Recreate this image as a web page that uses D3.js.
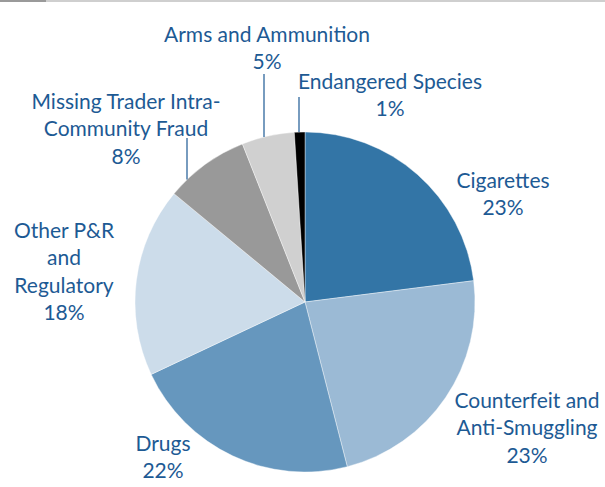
<!DOCTYPE html>
<html>
<head>
<meta charset="utf-8">
<script src="https://cdn.jsdelivr.net/npm/d3@7"></script>
<style>
  html, body { margin: 0; padding: 0; background: #fff; }
  svg { display: block; }
  text { font-family: Lato, "Open Sans", sans-serif; fill: #1d5a94; }
</style>
</head>
<body>
<svg id="chart" width="605" height="487"></svg>
<script>
// Share of activity by category, clockwise from 12 o'clock
const categories = [
  "Cigarettes",
  "Counterfeit and Anti-Smuggling",
  "Drugs",
  "Other P&R and Regulatory",
  "Missing Trader Intra-Community Fraud",
  "Arms and Ammunition",
  "Endangered Species"
];
const shares = [23, 23, 22, 18, 8, 5, 1];
const sliceColors = ["#3375a6", "#9bbad5", "#6697be", "#ccdcea", "#999999", "#d0d0d0", "#000000"];

// Label text lines per category (last line is the percentage)
const labelLines = [
  ["Cigarettes"],
  ["Counterfeit and", "Anti-Smuggling"],
  ["Drugs"],
  ["Other P&R", "and", "Regulatory"],
  ["Missing Trader Intra-", "Community Fraud"],
  ["Arms and Ammunition"],
  ["Endangered Species"]
];

const svg = d3.select("#chart");
const cx = 305, cy = 302, radius = 170;

// thin rule across the top
svg.append("rect").attr("x", 0).attr("y", 0).attr("width", 605).attr("height", 2).attr("fill", "#cfcfcf");
svg.append("rect").attr("x", 0).attr("y", 0).attr("width", 46).attr("height", 2).attr("fill", "#9a9a9a");

const data = categories.map((c, i) => ({ name: c, value: shares[i], color: sliceColors[i], lines: labelLines[i] }));

const pie = d3.pie().value(d => d.value).sort(null);
const arc = d3.arc().innerRadius(0).outerRadius(radius);
const arcs = pie(data);

const g = svg.append("g").attr("transform", `translate(${cx},${cy})`);
g.selectAll("path.slice")
  .data(arcs)
  .enter().append("path")
  .attr("class", "slice")
  .attr("d", arc)
  .attr("fill", d => d.data.color)
  .attr("stroke", "#ffffff")
  .attr("stroke-width", 0.4);

// label placement (center x, first baseline y)
const labelLayout = {
  "Cigarettes": { x: 503, y: 188 },
  "Counterfeit and Anti-Smuggling": { x: 527, y: 408 },
  "Drugs": { x: 163, y: 451 },
  "Other P&R and Regulatory": { x: 64, y: 238 },
  "Missing Trader Intra-Community Fraud": { x: 126, y: 109 },
  "Arms and Ammunition": { x: 267, y: 42 },
  "Endangered Species": { x: 390, y: 89 }
};
const lineHeight = 27.3;

// leader lines: vertical, from under the label down to the pie rim
const leaders = {
  "Missing Trader Intra-Community Fraud": { x: 187, y0: 138 },
  "Arms and Ammunition": { x: 264, y0: 74 },
  "Endangered Species": { x: 299, y0: 97 }
};

arcs.forEach(a => {
  const d = a.data;
  const L = labelLayout[d.name];
  const t = svg.append("text")
    .attr("text-anchor", "middle")
    .attr("font-size", 21);
  const lines = d.lines.concat([d.value + "%"]);
  lines.forEach((s, i) => {
    t.append("tspan").attr("x", L.x).attr("y", L.y + i * lineHeight).text(s);
  });
  const ld = leaders[d.name];
  if (ld) {
    const dx = ld.x - cx;
    const yEnd = cy - Math.sqrt(radius * radius - dx * dx);
    svg.append("line")
      .attr("x1", ld.x).attr("x2", ld.x)
      .attr("y1", ld.y0).attr("y2", yEnd)
      .attr("stroke", "#1d5a94").attr("stroke-width", 1.2);
  }
});
</script>
</body>
</html>
